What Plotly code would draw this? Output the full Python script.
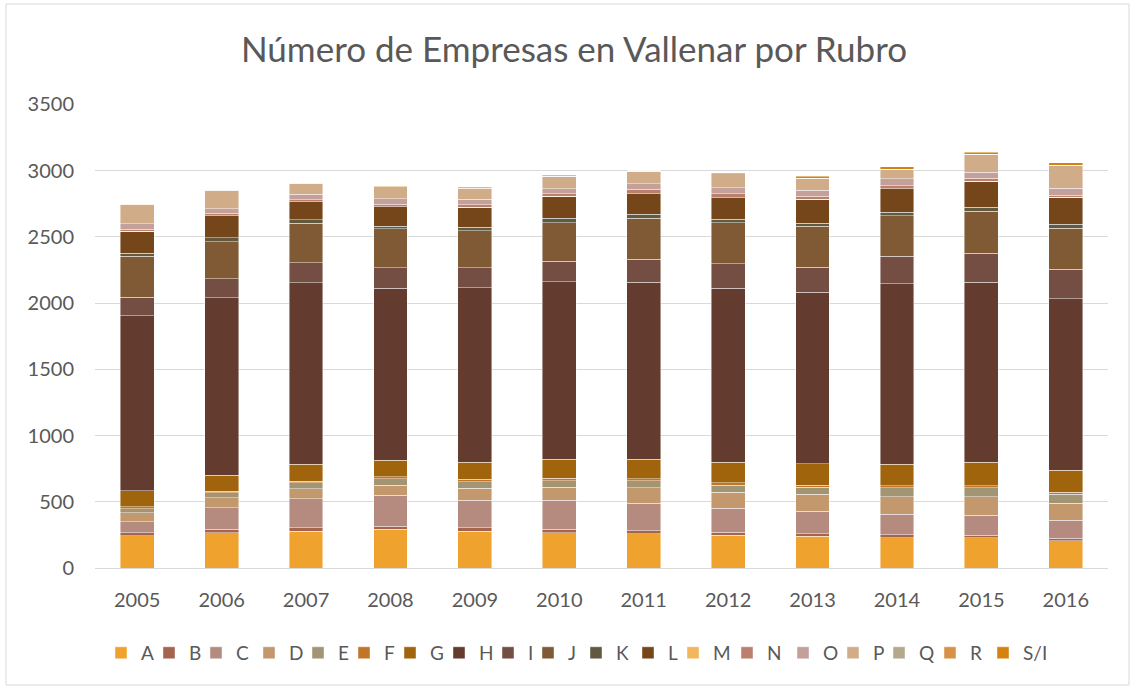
import plotly.graph_objects as go

years = ["2005", "2006", "2007", "2008", "2009", "2010", "2011", "2012", "2013", "2014", "2015", "2016"]

A = [245, 266, 279, 294, 279, 266, 259, 249, 241, 229, 229, 206]
B = [20, 26, 25, 20, 25, 26, 22, 20, 18, 22, 20, 18]
C = [85, 163, 219, 234, 207, 219, 207, 181, 171, 154, 148, 138]
D = [68, 75, 75, 78, 92, 98, 118, 121, 126, 131, 139, 128]
E = [30, 38, 45, 47, 48, 50, 53, 55, 55, 70, 70, 66]
F = [13, 13, 13, 16, 20, 18, 15, 17, 15, 15, 15, 17]
G = [121, 120, 126, 126, 126, 145, 146, 154, 161, 163, 179, 166]
H = [1322, 1338, 1370, 1297, 1320, 1338, 1335, 1313, 1293, 1363, 1355, 1295]
I = [141, 146, 151, 156, 151, 154, 174, 185, 190, 206, 219, 221]
J = [309, 276, 299, 292, 279, 291, 309, 310, 308, 304, 317, 310]
K = [23, 33, 25, 20, 23, 33, 32, 28, 24, 28, 30, 30]
L = [161, 163, 136, 145, 151, 163, 153, 160, 179, 176, 196, 201]
M = [3, 3, 3, 3, 3, 3, 3, 3, 3, 3, 3, 3]
N = [14, 17, 14, 17, 16, 19, 32, 27, 21, 22, 21, 14]
O = [43, 33, 40, 41, 43, 38, 43, 46, 45, 51, 45, 53]
P = [143, 140, 83, 90, 80, 93, 93, 105, 89, 70, 134, 171]
Q = [1, 1, 1, 1, 1, 1, 1, 1, 1, 1, 1, 1]
R = [2, 2, 2, 2, 2, 2, 2, 2, 2, 2, 2, 2]
SI = [3, 2, 3, 2, 7, 6, 2, 5, 15, 18, 15, 18]

series = [
    ("A", A, "#F0A22E"), ("B", B, "#A5644E"), ("C", C, "#B58B80"),
    ("D", D, "#C3986D"), ("E", E, "#A19574"), ("F", F, "#C17529"),
    ("G", G, "#A0640C"), ("H", H, "#643B2F"), ("I", I, "#744E43"),
    ("J", J, "#7F5A35"), ("K", K, "#615A41"), ("L", L, "#74461A"),
    ("M", M, "#F3B55E"), ("N", N, "#BB7F6E"), ("O", O, "#C4A09A"),
    ("P", P, "#D1AC89"), ("Q", Q, "#B3A98D"), ("R", R, "#D89248"),
    ("S/I", SI, "#D6820E"),
]

# legend swatch left edges (px) as laid out in the reference
legend_px = [115, 163, 210, 263, 312, 358, 404, 453, 502, 542, 590, 642,
             687, 741, 797, 847, 893, 944, 997]

W, H_ = 1132, 687
ML, MR, MT, MB = 95, 24, 104, 119
pw, ph = W - ML - MR, H_ - MT - MB
SWATCH_OFFSET = 14

fig = go.Figure()
legend_layouts = {}
for i, (name, vals, col) in enumerate(series):
    key = "legend" if i == 0 else f"legend{i + 1}"
    fig.add_trace(go.Bar(
        x=years, y=vals, name=name, legend=key,
        marker=dict(color=col, line=dict(color="rgba(255,255,255,0.55)", width=0.8)),
    ))
    legend_layouts[key] = dict(
        orientation="h", yanchor="middle", y=-0.183, xanchor="left",
        x=(legend_px[i] - SWATCH_OFFSET - ML) / pw,
        font=dict(size=19, color="#595959"), itemclick=False,
        bgcolor="rgba(0,0,0,0)",
    )

# outer chart border
fig.add_shape(type="rect", xref="paper", yref="paper",
              x0=(6 - ML) / pw, x1=(1129 - ML) / pw,
              y0=(H_ - MB - 685) / ph, y1=(H_ - MB - 4) / ph,
              line=dict(color="#D9D9D9", width=1), fillcolor="rgba(0,0,0,0)", layer="below")

fig.update_layout(
    barmode="stack",
    bargap=0.6,
    width=W, height=H_,
    paper_bgcolor="white", plot_bgcolor="white",
    margin=dict(l=ML, r=MR, t=MT, b=MB, autoexpand=False),
    font=dict(family="Lato, Open Sans, sans-serif", color="#595959", size=19),
    title=dict(text="Número de Empresas en Vallenar por Rubro",
               x=574 / W, xanchor="center", y=0.928, yanchor="middle",
               font=dict(size=35, color="#595959")),
    yaxis=dict(range=[0, 3502], dtick=500, gridcolor="#D9D9D9", gridwidth=1,
               zeroline=True, zerolinecolor="#D9D9D9", zerolinewidth=1,
               tickfont=dict(size=20, color="#595959"), ticks="", showline=False,
               ticklabelstandoff=20, automargin=False),
    xaxis=dict(tickfont=dict(size=20, color="#595959"), ticks="", showline=True,
               linecolor="#D9D9D9", linewidth=1, ticklabelstandoff=14, automargin=False),
    showlegend=True,
    **legend_layouts,
)

fig.write_html("out.html", config={"displayModeBar": False},
               post_script="document.body.style.margin='0';document.body.style.overflow='hidden';")
